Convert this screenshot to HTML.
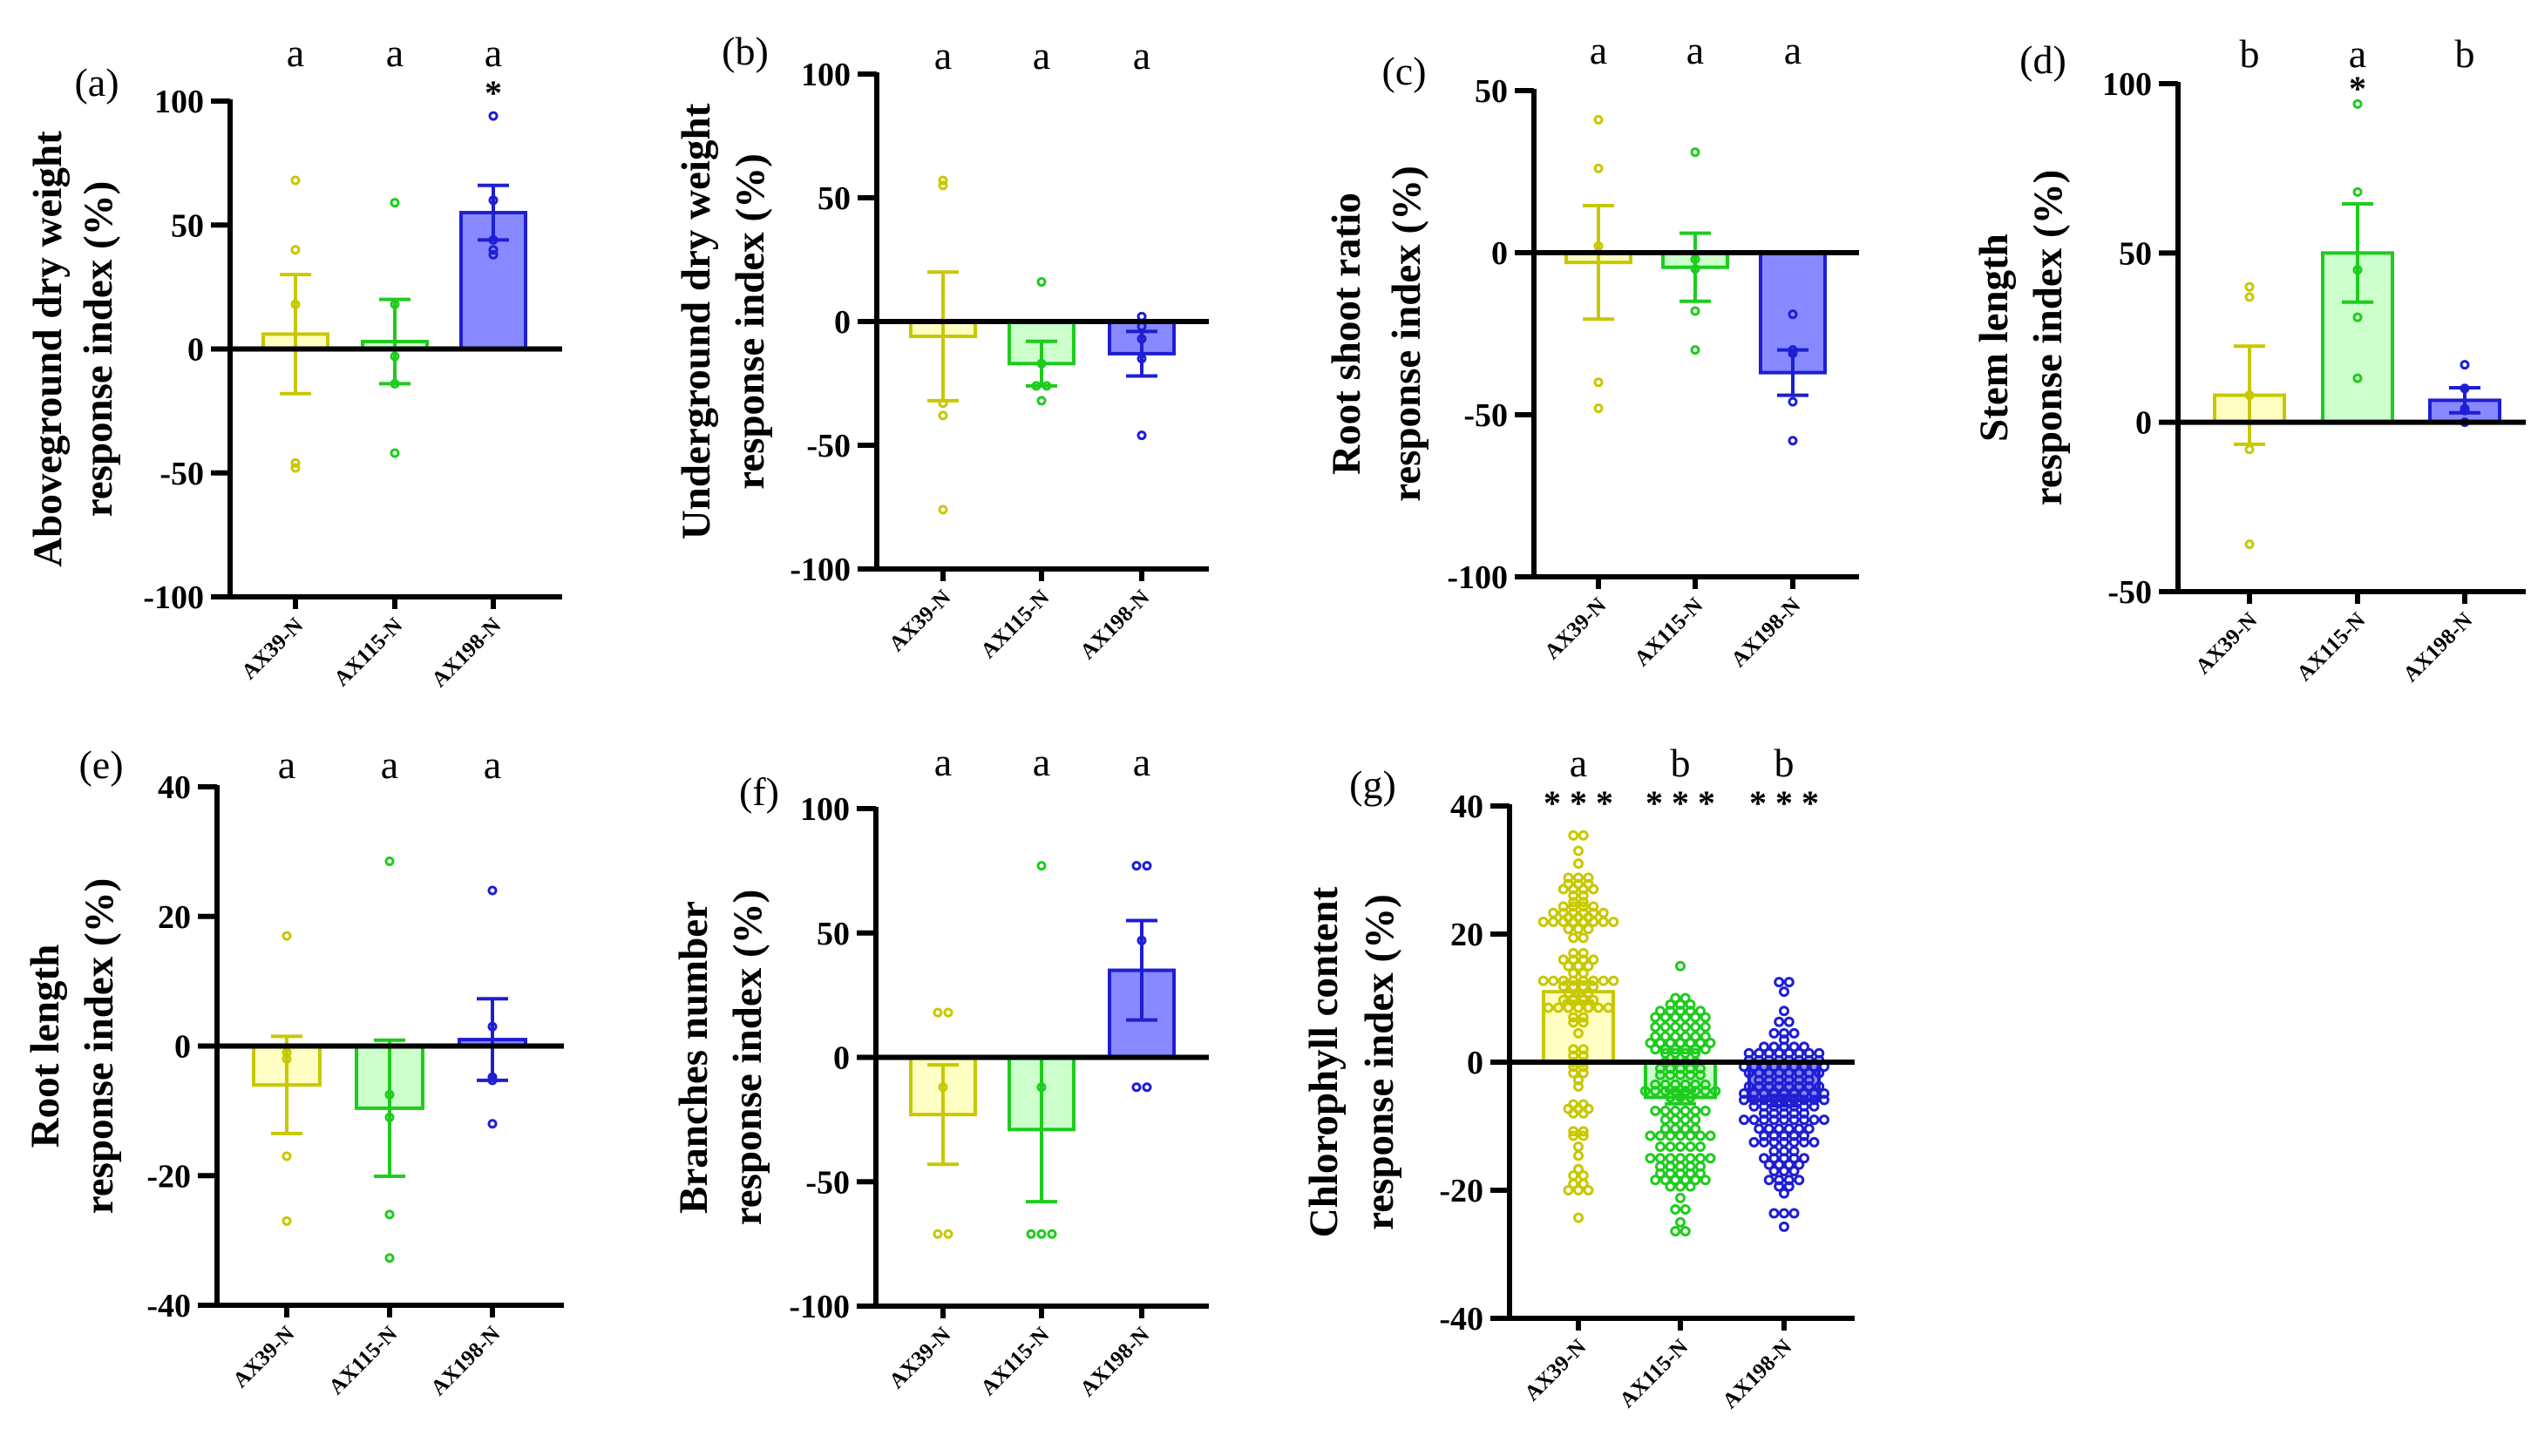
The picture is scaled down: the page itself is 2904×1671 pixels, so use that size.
<!DOCTYPE html>
<html><head><meta charset="utf-8"><style>
html,body{margin:0;padding:0;background:#fff;}
svg{display:block;font-family:"Liberation Serif",serif;}
</style></head><body>
<svg id="fig" width="2904" height="1671" viewBox="0 0 2904 1671" xmlns="http://www.w3.org/2000/svg"></svg>
<script>
// ---- data ----
const categories = ["AX39-N","AX115-N","AX198-N"];
const aMeans=[6,3,55], aSems=[24,17,11];
const aPoints=[[68,40,18,-46,-48],[59,18,-3,-14,-42],[94,60,44,40,38]];
const aLetters=["a","a","a"], aStars=["","","*"];
const bMeans=[-6,-17,-13], bSems=[26,9,9];
const bPoints=[[57,55,-33,-38,-76],[16,-17,-26,-26,-32],[2,-2,-7,-15,-46]];
const bLetters=["a","a","a"], bStars=["","",""];
const cMeans=[-3,-4.5,-37], cSems=[17.5,10.5,7];
const cPoints=[[41,26,2,-40,-48],[31,-2,-5,-18,-30],[-19,-30,-31,-46,-58]];
const cLetters=["a","a","a"], cStars=["","",""];
const dMeans=[8,50,6.5], dSems=[14.5,14.5,3.7];
const dPoints=[[40,37,8,-8,-36],[94,68,45,31,13],[17,10,4,3.5,0]];
const dLetters=["b","a","b"], dStars=["","*",""];
const eMeans=[-6,-9.6,1], eSems=[7.5,10.5,6.3];
const ePoints=[[17,-1,-2,-17,-27],[28.5,-7.5,-11,-26,-32.7],[24,3,-4.8,-5.3,-12]];
const eLetters=["a","a","a"], eStars=["","",""];
const fMeans=[-23,-29,35], fSems=[20,29,20];
const fPoints=[[18,18,-12,-71,-71],[77,-12,-71,-71,-71],[77,77,47,-12,-12]];
const fLetters=["a","a","a"], fStars=["","",""];
const gMeans=[11,-5.5,-6], gSems=[1.5,1,0.8];
const gYellow=[35.4,35.4,33,31,28.8,28.8,28.8,27.8,27.8,27.8,27,27,27,27,26,26,25,25,24.3,24.3,24.3,24.3,
23.3,23.3,23.3,23.3,23.3,23.3,22.6,22.6,22.6,21.9,21.9,21.9,21.9,21.9,21.9,21.9,21.9,20.8,20.8,20.8,19.4,19.4,
17,17,16,16,16,16,15,15,15,13.9,13.9,12.7,12.7,12.7,12.7,12.7,12.7,12.7,12.7,11.8,11.8,11.8,11.8,10.8,10.8,10.8,
9.7,9.7,9.7,9.7,8.5,8.5,8.5,8.5,8.5,8.5,8.5,7,7,6.2,6.2,4.5,2,2,1,1,0,0,-0.7,-0.7,-1.7,-1.7,-2.8,-3.8,
-6.6,-6.6,-7.3,-7.3,-7.3,-8,-8,-10.8,-10.8,-11.5,-11.5,-13.2,-14.6,-16.7,-17.7,-17.7,-19,-19,-20,-20,-20,-24.3];
const gGreen=[15,10,10,9,9,9,8,8,8,8,8,7,7,7,7,7,7,5.5,5.5,5.5,5.5,5.5,5.5,4,4,4,4,4,4,3,3,3,3,3,3,3,
2,2,2,2,2,2,1.4,1.4,1.4,1.4,0,0,0,0,-1,-1,-1,-1,-1,-2,-2,-2,-2,-2,-3.5,-3.5,-3.5,-3.5,-3.5,-3.5,
-4.5,-4.5,-4.5,-4.5,-4.5,-4.5,-4.5,-4.5,-5.5,-5.5,-5.5,-7.6,-7.6,-7.6,-7.6,-7.6,-7.6,-9,-9,-9,-9,
-10.4,-10.4,-10.4,-10.4,-11.5,-11.5,-11.5,-11.5,-11.5,-11.5,-11.5,-13.2,-13.2,-13.2,-13.2,-13.2,
-15,-15,-15,-15,-15,-15,-15,-16.3,-16.3,-16.3,-16.3,-16.3,-17.4,-17.4,-17.4,-17.4,-17.4,
-18.4,-18.4,-18.4,-18.4,-18.4,-18.4,-19.4,-19.4,-19.4,-21.2,-23,-23,-25,-26.4,-26.4];
const gBlue=[12.5,12.5,11,8,6.3,6.3,4.5,4.5,4.5,3.5,2.4,2.4,2.4,2.4,2.4,1.4,1.4,1.4,1.4,1.4,1.4,1.4,1.4,
0.3,0.3,0.3,0.3,0.3,0.3,0.3,0.3,-0.7,-0.7,-0.7,-0.7,-0.7,-0.7,-0.7,-0.7,-0.7,-1.7,-1.7,-1.7,-1.7,-1.7,-1.7,-1.7,-1.7,
-2.8,-2.8,-2.8,-2.8,-2.8,-2.8,-3.8,-3.8,-3.8,-3.8,-3.8,-3.8,-3.8,-3.8,-4.9,-4.9,-4.9,-4.9,-4.9,-4.9,-4.9,-4.9,-4.9,
-5.9,-5.9,-5.9,-5.9,-5.9,-5.9,-5.9,-5.9,-5.9,-6.9,-6.9,-6.9,-6.9,-6.9,-6.9,-6.9,-8,-8,-8,-8,-8,
-9,-9,-9,-9,-9,-9,-9,-9,-9,-10.4,-10.4,-10.4,-10.4,-10.4,-10.4,-11.5,-11.5,-11.5,-11.5,-11.5,
-12.5,-12.5,-12.5,-12.5,-12.5,-12.5,-12.5,-13.9,-13.9,-13.9,-15,-15,-15,-15,-15,-16,-16,-16,-16,
-17,-17,-17,-18.4,-18.4,-18.4,-18.4,-19.4,-19.4,-20.5,-23.6,-23.6,-23.6,-25.7];
const gPoints=[gYellow,gGreen,gBlue];
const gLetters=["a","b","b"], gStars=["* * *","* * *","* * *"];

// ---- layout (not data) ----
const strokeC=["#c8c800","#1ecc1e","#1e1ed2"], fillC=["#ffffc4","#ccffcc","#8888ff"];
const panels=[
 {id:"a",means:aMeans,sems:aSems,pts:aPoints,let:aLetters,st:aStars,ax:264,top:116,bot:685,min:-100,max:100,ticks:[100,50,0,-50,-100],cx:[339,453,566],end:645,bw:74,letY:76,starY:120,lab:[111,110],title:["Aboveground  dry weight","response index (%)"],t1:-210,t2:-152,r:4,sp:12},
 {id:"b",means:bMeans,sems:bSems,pts:bPoints,let:bLetters,st:bStars,ax:1006,top:85,bot:653,min:-100,max:100,ticks:[100,50,0,-50,-100],cx:[1082,1195,1310],end:1387,bw:74,letY:79,starY:0,lab:[855,74],title:["Underground  dry weight","response index (%)"],t1:-208,t2:-146,r:4,sp:12},
 {id:"c",means:cMeans,sems:cSems,pts:cPoints,let:cLetters,st:cStars,ax:1760,top:104,bot:662,min:-100,max:50,ticks:[50,0,-50,-100],cx:[1834,1945,2057],end:2133,bw:74,letY:73,starY:0,lab:[1611,97],title:["Root shoot ratio","response index (%)"],t1:-216,t2:-147,r:4,sp:12},
 {id:"d",means:dMeans,sems:dSems,pts:dPoints,let:dLetters,st:dStars,ax:2499,top:96,bot:679,min:-50,max:100,ticks:[100,50,0,-50],cx:[2581,2705,2828],end:2898,bw:80,letY:77,starY:115,lab:[2344,84],title:["Stem length","response index (%)"],t1:-212,t2:-150,r:4,sp:12},
 {id:"e",means:eMeans,sems:eSems,pts:ePoints,let:eLetters,st:eStars,ax:249,top:903,bot:1498,min:-40,max:40,ticks:[40,20,0,-20,-40],cx:[329,447,565],end:647,bw:76,letY:893,starY:0,lab:[116,893],title:["Root length","response index (%)"],t1:-198,t2:-136,r:4,sp:12},
 {id:"f",means:fMeans,sems:fSems,pts:fPoints,let:fLetters,st:fStars,ax:1005,top:928,bot:1499,min:-100,max:100,ticks:[100,50,0,-50,-100],cx:[1082,1195,1310],end:1387,bw:74,letY:890,starY:0,lab:[871,924],title:["Branches number","response index (%)"],t1:-210,t2:-148,r:4,sp:12},
 {id:"g",means:gMeans,sems:gSems,pts:gPoints,let:gLetters,st:gStars,ax:1732,top:925,bot:1513,min:-40,max:40,ticks:[40,20,0,-20,-40],cx:[1811,1928,2047],end:2128,bw:80,letY:891,starY:935,lab:[1575,916],title:["Chlorophyll content","response index (%)"],t1:-214,t2:-150,r:4.5,sp:11.5}
];
const NS="http://www.w3.org/2000/svg";
const svg=document.getElementById("fig");
function mk(tag,attrs,parent){const e=document.createElementNS(NS,tag);for(const k in attrs)e.setAttribute(k,attrs[k]);(parent||svg).appendChild(e);return e;}
panels.forEach(p=>{
  const g=mk("g",{});
  
  
  const y=v=>p.top+(p.max-v)/(p.max-p.min)*(p.bot-p.top);
  const y0=y(0);
  p.means.forEach((m,i)=>{
    const r=mk("rect",{x:p.cx[i]-p.bw/2,y:Math.min(y(m),y0),width:p.bw,height:Math.abs(y(m)-y0),fill:fillC[i],stroke:strokeC[i],"stroke-width":4},g);
    
    
  });
  // points: identical values spread horizontally, centred
  p.pts.forEach((arr,i)=>{
    const groups=new Map();
    arr.forEach(v=>{groups.set(v,(groups.get(v)||0)+1);});
    groups.forEach((n,v)=>{
      for(let k=0;k<n;k++){
        const off=(k-(n-1)/2)*p.sp;
        const c=mk("circle",{cx:p.cx[i]+off,cy:y(v),r:p.r,fill:"none",stroke:strokeC[i],"stroke-width":3},g);
        
        
      }
    });
  });
  p.means.forEach((m,i)=>{
    const eg=mk("g",{stroke:strokeC[i],"stroke-width":4},g);
    
    
    const hi=y(m+p.sems[i]),lo=y(m-p.sems[i]);
    mk("line",{x1:p.cx[i],x2:p.cx[i],y1:hi,y2:lo},eg);
    mk("line",{x1:p.cx[i]-18,x2:p.cx[i]+18,y1:hi,y2:hi},eg);
    mk("line",{x1:p.cx[i]-18,x2:p.cx[i]+18,y1:lo,y2:lo},eg);
  });
  const ya=mk("line",{x1:p.ax,x2:p.ax,y1:p.top-2,y2:p.bot+2,stroke:"#000","stroke-width":6},g);
  
  const zl=mk("line",{x1:p.ax,x2:p.end,y1:y0,y2:y0,stroke:"#000","stroke-width":6},g);
  
  const xa=mk("line",{x1:p.ax-22,x2:p.end,y1:p.bot,y2:p.bot,stroke:"#000","stroke-width":6},g);
  
  p.ticks.forEach(t=>{
    mk("line",{x1:p.ax-22,x2:p.ax,y1:y(t),y2:y(t),stroke:"#000","stroke-width":6},g);
    const tl=mk("text",{x:p.ax-30,y:y(t)+13,"text-anchor":"end","font-size":38,"font-weight":"bold"},g);
    tl.textContent=t;
    
  });
  categories.forEach((c,i)=>{
    mk("line",{x1:p.cx[i],x2:p.cx[i],y1:p.bot,y2:p.bot+14,stroke:"#000","stroke-width":6},g);
    const xl=mk("text",{x:0,y:0,"text-anchor":"end","font-size":25,"font-weight":"bold",transform:`translate(${p.cx[i]+10},${p.bot+34}) rotate(-45)`},g);
    xl.textContent=c;
    
    const lt=mk("text",{x:p.cx[i],y:p.letY,"text-anchor":"middle","font-size":46},g);
    lt.textContent=p.let[i];
    
    if(p.st[i]){const s=mk("text",{x:p.cx[i],y:p.starY,"text-anchor":"middle","font-size":40,"font-weight":"bold"},g);
      s.textContent=p.st[i];
      }
  });
  const cy=(p.top+p.bot)/2;
  [p.t1,p.t2].forEach((dx,k)=>{
    const t=mk("text",{x:0,y:0,"text-anchor":"middle","font-size":47,"font-weight":"bold",transform:`translate(${p.ax+dx+16},${cy}) rotate(-90)`},g);
    t.textContent=p.title[k];
    
  });
  const pl=mk("text",{x:p.lab[0],y:p.lab[1],"text-anchor":"middle","font-size":46},g);
  pl.textContent="("+p.id+")";
  
});
</script>
</body></html>
